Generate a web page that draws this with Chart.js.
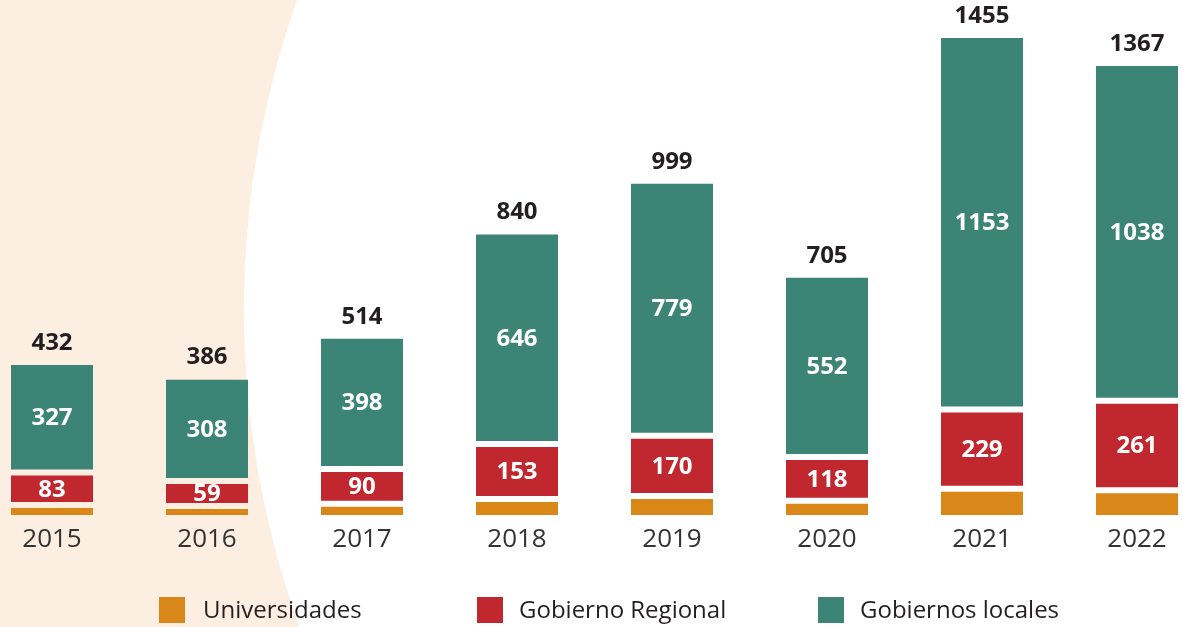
<!DOCTYPE html>
<html>
<head>
<meta charset="utf-8">
<script src="https://cdn.jsdelivr.net/npm/chart.js@4"></script>
<style>
    body { margin: 0; background: #fff; }
    #wrap { position: relative; width: 1182px; height: 627px; overflow: hidden; }
    .leg { position: absolute; top: 597px; height: 26px; font: 24px "Open Sans", sans-serif; color: #231F20; line-height: 26px; white-space: nowrap; }
    .leg span { position: absolute; top: 0; width: 26px; height: 26px; }
    .leg b { position: absolute; top: -1px; font-weight: normal; }
</style>
</head>
<body>
<div id="wrap">
    <canvas id="barChart" width="1182" height="627"></canvas>
    <div class="leg" style="left:159px"><span style="background:#D98718"></span><b style="left:44px">Universidades</b></div>
    <div class="leg" style="left:477px"><span style="background:#C1272F"></span><b style="left:42px">Gobierno Regional</b></div>
    <div class="leg" style="left:818px"><span style="background:#3B8476"></span><b style="left:42px">Gobiernos locales</b></div>
</div>
<script>
var years = ['2015', '2016', '2017', '2018', '2019', '2020', '2021', '2022'];
var universidades = [22, 19, 26, 41, 50, 35, 73, 68];
var gobiernoRegional = [83, 59, 90, 153, 170, 118, 229, 261];
var gobiernosLocales = [327, 308, 398, 646, 779, 552, 1153, 1038];

var totals = years.map(function(y, i) {
    return universidades[i] + gobiernoRegional[i] + gobiernosLocales[i];
});

var segmentGap = 6; // white space between stacked segments, px

// peach curved shape behind the left part
var backgroundPlugin = {
    id: 'background',
    beforeDraw: function(chart) {
        var ctx = chart.ctx;
        ctx.save();
        ctx.fillStyle = '#FCEFE2';
        ctx.fillRect(0, 0, chart.width, chart.height);
        ctx.fillStyle = '#ffffff';
        ctx.beginPath();
        ctx.arc(1177, 310, 933, 0, Math.PI * 2);
        ctx.fill();
        ctx.restore();
    }
};

// push each upper segment up so the gaps don't eat into the bars
var gapPlugin = {
    id: 'gaps',
    afterDatasetsUpdate: function(chart) {
        for (var di = 1; di < chart.data.datasets.length; di++) {
            chart.getDatasetMeta(di).data.forEach(function(bar) {
                bar.y -= segmentGap * di;
                bar.base -= segmentGap * di;
            });
        }
    }
};

// values inside the segments and totals above the bars
var labelPlugin = {
    id: 'labels',
    afterDatasetsDraw: function(chart) {
        var ctx = chart.ctx;
        ctx.save();
        ctx.textAlign = 'center';
        ctx.textBaseline = 'middle';
        ctx.font = 'bold 24px "Open Sans"';
        [1, 2].forEach(function(di) {
            var ds = chart.data.datasets[di];
            chart.getDatasetMeta(di).data.forEach(function(bar, i) {
                ctx.fillStyle = '#ffffff';
                ctx.fillText(ds.data[i], bar.x, (bar.y + bar.base) / 2 + 1);
            });
        });
        chart.getDatasetMeta(2).data.forEach(function(bar, i) {
            ctx.fillStyle = '#231F20';
            ctx.fillText(totals[i], bar.x, bar.y - 22);
        });
        ctx.restore();
    }
};

document.addEventListener("DOMContentLoaded", function() {
    createBarChart();
});

function createBarChart() {
    var ctx = document.getElementById('barChart').getContext('2d');
    var myBarChart = new Chart(ctx, {
        type: 'bar',
        data: {
            labels: years,
            datasets: [{
                label: 'Universidades',
                data: universidades,
                backgroundColor: '#D98718'
            }, {
                label: 'Gobierno Regional',
                data: gobiernoRegional,
                backgroundColor: '#C1272F'
            }, {
                label: 'Gobiernos locales',
                data: gobiernosLocales,
                backgroundColor: '#3B8476'
            }]
        },
        options: {
            responsive: false,
            animation: false,
            datasets: {
                bar: { borderWidth: 0, barThickness: 82, clip: false, inflateAmount: 0 }
            },
            layout: { padding: { left: 52, right: 45, top: 50, bottom: 0 } },
            plugins: {
                legend: { display: false },
                tooltip: { enabled: false }
            },
            scales: {
                x: {
                    stacked: true,
                    offset: false,
                    grid: { display: false, drawTicks: false },
                    border: { display: false },
                    ticks: {
                        color: '#333333',
                        font: { family: 'Open Sans', size: 26 },
                        padding: 9,
                        maxRotation: 0,
                        autoSkip: false
                    },
                    afterFit: function(scale) { scale.height = 112; }
                },
                y: {
                    stacked: true,
                    display: false,
                    min: 0,
                    max: 1455
                }
            }
        },
        plugins: [backgroundPlugin, gapPlugin, labelPlugin]
    });
}
</script>
</body>
</html>
